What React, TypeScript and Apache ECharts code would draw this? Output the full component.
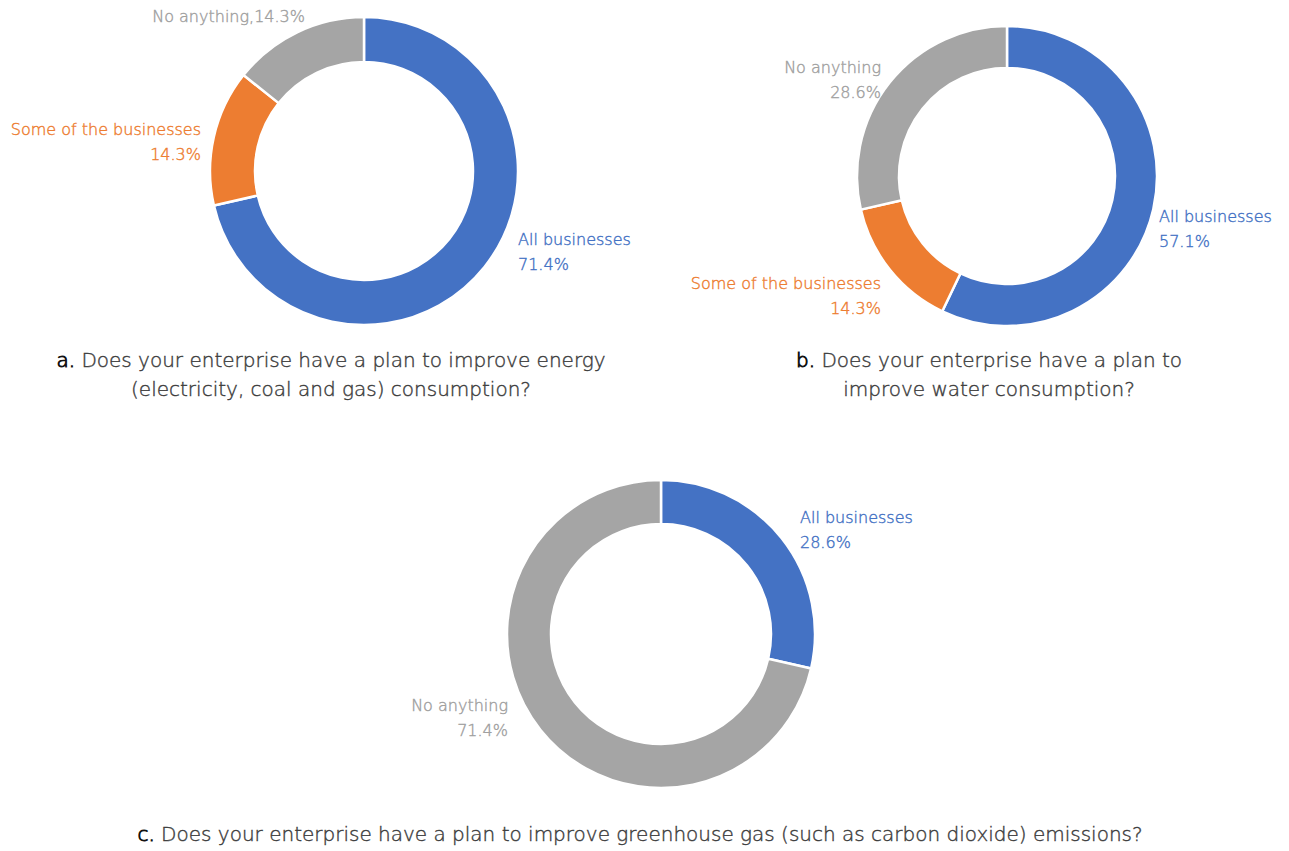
import React, { useEffect, useRef } from "react";
import * as echarts from "echarts";

const categories = ["All businesses", "Some of the businesses", "No anything"];
const energyValues = [71.4, 14.3, 14.3];
const waterValues = [57.1, 14.3, 28.6];
const ghgCategories = ["All businesses", "No anything"];
const ghgValues = [28.6, 71.4];

const titleA = ["a.", " Does your enterprise have a plan to improve energy", "(electricity, coal and gas) consumption?"];
const titleB = ["b.", " Does your enterprise have a plan to", "improve water consumption?"];
const titleC = ["c.", " Does your enterprise have a plan to improve greenhouse gas (such as carbon dioxide) emissions?"];

const BLUE = "#4472C4";
const ORANGE = "#ED7D31";
const GRAY = "#A5A5A5";
const colorMap: Record<string, string> = {
  "All businesses": BLUE,
  "Some of the businesses": ORANGE,
  "No anything": GRAY,
};
const textColorMap: Record<string, string> = {
  "All businesses": BLUE,
  "Some of the businesses": ORANGE,
  "No anything": "#A0A0A0",
};

const FONT = "'DejaVu Sans', Roboto, Arial, sans-serif";
const LABEL_SIZE = 16;
const TITLE_SIZE = 20;
const THICKEN = 0.4;

type Pos = { x: number; y: number; align: string };

function makeSeries(
  names: string[],
  values: number[],
  center: [number, number],
  radius: [number, number],
  positions: Pos[],
  singleLine: boolean[]
) {
  return {
    type: "pie",
    center,
    radius,
    startAngle: 90,
    clockwise: true,
    avoidLabelOverlap: false,
    itemStyle: { borderColor: "#ffffff", borderWidth: 2.5 },
    label: {
      show: true,
      position: "outside",
      fontFamily: FONT,
      fontSize: LABEL_SIZE,
      fontWeight: 300,
      lineHeight: 25,
    },
    labelLine: { show: false },
    emphasis: { disabled: true },
    labelLayout: (params: any) => {
      const p = positions[params.dataIndex];
      return { x: p.x, y: p.y, align: p.align, verticalAlign: "middle" };
    },
    data: names.map((n, i) => ({
      name: n,
      value: values[i],
      itemStyle: { color: colorMap[n] },
      label: {
        color: textColorMap[n],
        textBorderColor: textColorMap[n],
        textBorderWidth: THICKEN,
        formatter: singleLine[i] ? `${n},${values[i]}%` : `${n}\n${values[i]}%`,
      },
    })),
  };
}

function titleText(parts: string[], x: number, y: number) {
  const text = parts.length > 2
    ? `{p|${parts[0]}}{t|${parts[1]}}\n{t|${parts[2]}}`
    : `{p|${parts[0]}}{t|${parts[1]}}`;
  return {
    type: "text",
    x,
    y,
    style: {
      text,
      align: "center",
      verticalAlign: "top",
      font: `300 ${TITLE_SIZE}px ${FONT}`,
      lineHeight: 29,
      rich: {
        p: {
          fill: "#111111", stroke: "#111111", lineWidth: 0.9,
          fontSize: TITLE_SIZE, fontFamily: FONT, fontWeight: 300, lineHeight: 29,
        },
        t: {
          fill: "#3c3c3c", stroke: "#3c3c3c", lineWidth: THICKEN,
          fontSize: TITLE_SIZE, fontFamily: FONT, fontWeight: 300, lineHeight: 29,
        },
      },
    },
  };
}

export default function App() {
  const ref = useRef<HTMLDivElement>(null);
  useEffect(() => {
    if (!ref.current) return;
    const chart = echarts.init(ref.current, null, { renderer: "svg" });
    chart.setOption({
      animation: false,
      backgroundColor: "#ffffff",
      series: [
        makeSeries(
          categories,
          energyValues,
          [364, 171],
          [109, 154],
          [
            { x: 518, y: 252, align: "left" },
            { x: 201, y: 142, align: "right" },
            { x: 305, y: 16, align: "right" },
          ],
          [false, false, true]
        ),
        makeSeries(
          categories,
          waterValues,
          [1007, 176],
          [108, 150],
          [
            { x: 1159, y: 229, align: "left" },
            { x: 881, y: 296, align: "right" },
            { x: 881, y: 80, align: "right" },
          ],
          [false, false, false]
        ),
        makeSeries(
          ghgCategories,
          ghgValues,
          [661, 634],
          [110, 154],
          [
            { x: 800, y: 530, align: "left" },
            { x: 508, y: 718, align: "right" },
          ],
          [false, false]
        ),
      ],
      graphic: [
        titleText(titleA, 331, 345),
        titleText(titleB, 989, 345),
        titleText(titleC, 640, 819),
      ],
    });
    return () => chart.dispose();
  }, []);
  return (
    <div
      ref={ref}
      style={{ position: "fixed", left: 0, top: 0, width: 1289, height: 851, background: "#fff" }}
    />
  );
}
